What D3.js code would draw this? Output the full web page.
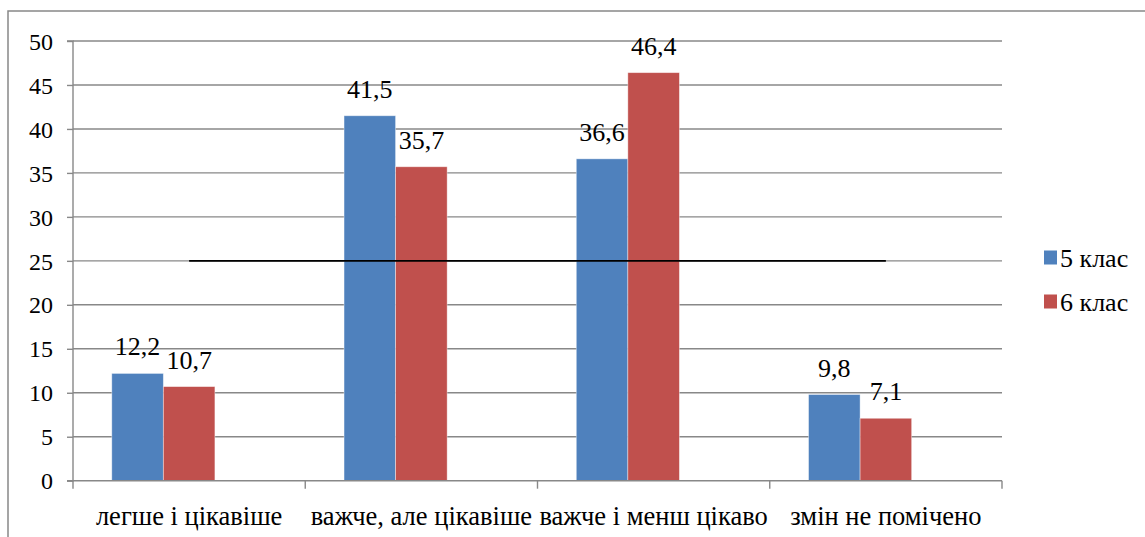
<!DOCTYPE html>
<html><head><meta charset="utf-8">
<script src="https://cdn.jsdelivr.net/npm/d3@7"></script>
<style>body{margin:0;background:#fff}svg{display:block}svg text{font-family:"Liberation Serif" !important;}</style>
</head><body><svg id="c" width="1145" height="537"></svg>
<script>
const categories = ["легше і цікавіше","важче, але цікавіше","важче і менш цікаво","змін не помічено"];
const series5 = [12.2, 41.5, 36.6, 9.8];
const series6 = [10.7, 35.7, 46.4, 7.1];
const lineValues = [25, 25, 25, 25];
const seriesNames = ["5 клас","6 клас"];
const seriesColors = ["#4F81BD","#C0504D"];
const yTicks = [0,5,10,15,20,25,30,35,40,45,50];

const FONT = "Liberation Serif";
const svg = d3.select("#c");
const L = 73, R = 1002, T = 41, B = 480.7;
function st(sel, size){ return sel.attr("font-family",FONT).attr("font-size",size).attr("fill","#000"); }

svg.append("rect").attr("x",8).attr("y",11).attr("width",1160).attr("height",560)
  .attr("fill","none").attr("stroke","#888").attr("stroke-width",1.5);

const y = d3.scaleLinear().domain([0,50]).range([B,T]);
const x0 = d3.scaleBand().domain(categories).range([L,R]).paddingInner(0.334).paddingOuter(0.167);
const slots = ["5 клас","6 клас","лінія"];
const x1 = d3.scaleBand().domain(slots).range([0,x0.bandwidth()]);

// grid
svg.append("g").selectAll("line").data(yTicks.slice(1)).join("line")
  .attr("x1",L).attr("x2",R).attr("y1",d=>y(d)).attr("y2",d=>y(d))
  .attr("stroke","#888").attr("stroke-width",1.4);

// y axis
const ya = svg.append("g").attr("transform",`translate(${L},0)`)
  .call(d3.axisLeft(y).tickValues(yTicks).tickSize(6).tickPadding(14).tickFormat(d3.format("d")));
ya.attr("font-family",FONT).attr("font-size",24);
ya.select(".domain").attr("stroke","#888").attr("stroke-width",1.4).attr("d",`M-6,${T}H0V${B}H-6`);
ya.selectAll(".tick line").attr("stroke","#888").attr("stroke-width",1.4);
st(ya.selectAll("text"),24).attr("dy","0.34em");

// bars
const data = categories.map((c,i)=>({c, vals:[series5[i], series6[i]]}));
const g = svg.append("g");
data.forEach(d=>{
  d.vals.forEach((v,j)=>{
    const bx = x0(d.c)+x1(slots[j]);
    g.append("rect").attr("x",bx).attr("y",y(v)).attr("width",x1.bandwidth()).attr("height",y(0)-y(v))
      .attr("fill",seriesColors[j]).attr("stroke","rgba(255,255,255,0.5)").attr("stroke-width",0.8);
    st(g.append("text").attr("x",bx+x1.bandwidth()/2).attr("y",y(v)-18).attr("text-anchor","middle"),26)
      .text(String(v).replace(".",","));
  });
});

// x axis
const xa = svg.append("g").attr("transform",`translate(0,${B})`);
xa.append("line").attr("x1",L).attr("x2",R).attr("stroke","#888").attr("stroke-width",1.4);
const bounds = d3.range(categories.length+1).map(i=>L+x0.step()*i);
xa.selectAll("line.t").data(bounds).join("line").attr("class","t")
  .attr("x1",d=>d).attr("x2",d=>d).attr("y1",0).attr("y2",8).attr("stroke","#888").attr("stroke-width",1.4);
st(xa.selectAll("text").data(categories).join("text")
  .attr("x",d=>x0(d)+x0.bandwidth()/2).attr("y",44).attr("text-anchor","middle"),26.5)
  .text(d=>d);

// line series at 25
const line = d3.line().x((d,i)=>x0(categories[i])+x0.bandwidth()/2).y(d=>y(d));
svg.append("path").datum(lineValues).attr("d",line).attr("fill","none").attr("stroke","#000").attr("stroke-width",1.6);

// legend
const lg = svg.append("g");
seriesNames.forEach((n,i)=>{
  const ly = 258 + i*44;
  lg.append("rect").attr("x",1044).attr("y",ly-7.5).attr("width",13).attr("height",14).attr("fill",seriesColors[i]);
  st(lg.append("text").attr("x",1060).attr("y",ly).attr("dy","0.34em"),26).text(n);
});
</script></body></html>
